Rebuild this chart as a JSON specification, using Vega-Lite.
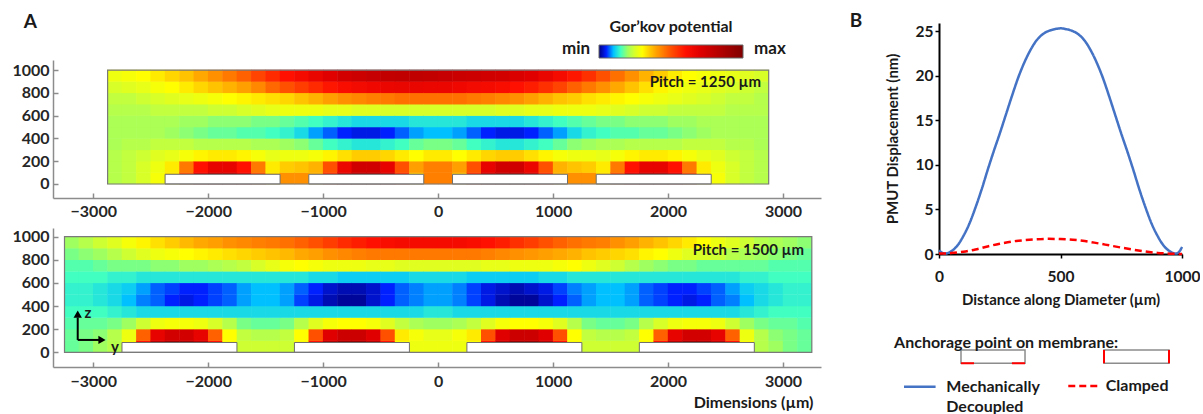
{
"$schema": "https://vega.github.io/schema/vega-lite/v6.json",
"padding": {"left": 11, "top": 12, "right": 0, "bottom": 0},
"background": "white",
"config": {"view": {"stroke": null}, "font": "Lato", "axis": {"labelFont": "Lato", "titleFont": "Lato", "labelFontWeight": "bold", "titleFontWeight": "bold", "grid": false, "labelFlush": false, "labelOverlap": false, "format": "d"}},
"datasets": {
"ta": [
{"y":-2812.5,"z":50,"v":2.2},{"y":-2812.5,"z":150,"v":2.2},{"y":-2812.5,"z":250,"v":2.2},{"y":-2812.5,"z":350,"v":2.1},{"y":-2812.5,"z":450,"v":2.1},{"y":-2812.5,"z":550,"v":2.1},{"y":-2812.5,"z":650,"v":2.2},{"y":-2812.5,"z":750,"v":2.3},{"y":-2812.5,"z":850,"v":2.5},{"y":-2812.5,"z":950,"v":2.8},
{"y":-2687.5,"z":50,"v":2.3},{"y":-2687.5,"z":150,"v":2.3},{"y":-2687.5,"z":250,"v":2.3},{"y":-2687.5,"z":350,"v":2.2},{"y":-2687.5,"z":450,"v":2.1},{"y":-2687.5,"z":550,"v":2.1},{"y":-2687.5,"z":650,"v":2.2},{"y":-2687.5,"z":750,"v":2.3},{"y":-2687.5,"z":850,"v":2.6},{"y":-2687.5,"z":950,"v":2.9},
{"y":-2562.5,"z":50,"v":2.5},{"y":-2562.5,"z":150,"v":2.5},{"y":-2562.5,"z":250,"v":2.4},{"y":-2562.5,"z":350,"v":2.2},{"y":-2562.5,"z":450,"v":2.1},{"y":-2562.5,"z":550,"v":2.1},{"y":-2562.5,"z":650,"v":2.2},{"y":-2562.5,"z":750,"v":2.4},{"y":-2562.5,"z":850,"v":2.7},{"y":-2562.5,"z":950,"v":3.0},
{"y":-2437.5,"z":50,"v":2.9},{"y":-2437.5,"z":150,"v":2.8},{"y":-2437.5,"z":250,"v":2.6},{"y":-2437.5,"z":350,"v":2.3},{"y":-2437.5,"z":450,"v":2.1},{"y":-2437.5,"z":550,"v":2.1},{"y":-2437.5,"z":650,"v":2.3},{"y":-2437.5,"z":750,"v":2.5},{"y":-2437.5,"z":850,"v":2.9},{"y":-2437.5,"z":950,"v":3.2},
{"y":-2312.5,"z":50,"v":3.3},{"y":-2312.5,"z":150,"v":3.2},{"y":-2312.5,"z":250,"v":2.7},{"y":-2312.5,"z":350,"v":2.3},{"y":-2312.5,"z":450,"v":2.0},{"y":-2312.5,"z":550,"v":2.1},{"y":-2312.5,"z":650,"v":2.3},{"y":-2312.5,"z":750,"v":2.6},{"y":-2312.5,"z":850,"v":3.0},{"y":-2312.5,"z":950,"v":3.4},
{"y":-2187.5,"z":50,"v":5.0},{"y":-2187.5,"z":150,"v":4.5},{"y":-2187.5,"z":250,"v":2.9},{"y":-2187.5,"z":350,"v":2.3},{"y":-2187.5,"z":450,"v":1.9},{"y":-2187.5,"z":550,"v":2.0},{"y":-2187.5,"z":650,"v":2.3},{"y":-2187.5,"z":750,"v":2.7},{"y":-2187.5,"z":850,"v":3.2},{"y":-2187.5,"z":950,"v":3.6},
{"y":-2062.5,"z":50,"v":7.3},{"y":-2062.5,"z":150,"v":6.0},{"y":-2062.5,"z":250,"v":3.1},{"y":-2062.5,"z":350,"v":2.2},{"y":-2062.5,"z":450,"v":1.8},{"y":-2062.5,"z":550,"v":2.0},{"y":-2062.5,"z":650,"v":2.3},{"y":-2062.5,"z":750,"v":2.8},{"y":-2062.5,"z":850,"v":3.4},{"y":-2062.5,"z":950,"v":3.9},
{"y":-1937.5,"z":50,"v":8.3},{"y":-1937.5,"z":150,"v":6.8},{"y":-1937.5,"z":250,"v":3.2},{"y":-1937.5,"z":350,"v":2.2},{"y":-1937.5,"z":450,"v":1.7},{"y":-1937.5,"z":550,"v":1.9},{"y":-1937.5,"z":650,"v":2.4},{"y":-1937.5,"z":750,"v":2.9},{"y":-1937.5,"z":850,"v":3.6},{"y":-1937.5,"z":950,"v":4.2},
{"y":-1812.5,"z":50,"v":8.3},{"y":-1812.5,"z":150,"v":6.8},{"y":-1812.5,"z":250,"v":3.2},{"y":-1812.5,"z":350,"v":2.2},{"y":-1812.5,"z":450,"v":1.7},{"y":-1812.5,"z":550,"v":1.9},{"y":-1812.5,"z":650,"v":2.4},{"y":-1812.5,"z":750,"v":3.0},{"y":-1812.5,"z":850,"v":3.8},{"y":-1812.5,"z":950,"v":4.5},
{"y":-1687.5,"z":50,"v":7.3},{"y":-1687.5,"z":150,"v":6.0},{"y":-1687.5,"z":250,"v":3.1},{"y":-1687.5,"z":350,"v":2.2},{"y":-1687.5,"z":450,"v":1.6},{"y":-1687.5,"z":550,"v":1.9},{"y":-1687.5,"z":650,"v":2.5},{"y":-1687.5,"z":750,"v":3.1},{"y":-1687.5,"z":850,"v":4.0},{"y":-1687.5,"z":950,"v":4.8},
{"y":-1562.5,"z":50,"v":5.0},{"y":-1562.5,"z":150,"v":4.5},{"y":-1562.5,"z":250,"v":2.9},{"y":-1562.5,"z":350,"v":2.1},{"y":-1562.5,"z":450,"v":1.6},{"y":-1562.5,"z":550,"v":1.8},{"y":-1562.5,"z":650,"v":2.6},{"y":-1562.5,"z":750,"v":3.2},{"y":-1562.5,"z":850,"v":4.3},{"y":-1562.5,"z":950,"v":5.2},
{"y":-1437.5,"z":50,"v":3.4},{"y":-1437.5,"z":150,"v":3.2},{"y":-1437.5,"z":250,"v":2.7},{"y":-1437.5,"z":350,"v":2.1},{"y":-1437.5,"z":450,"v":1.5},{"y":-1437.5,"z":550,"v":1.8},{"y":-1437.5,"z":650,"v":2.7},{"y":-1437.5,"z":750,"v":3.3},{"y":-1437.5,"z":850,"v":4.7},{"y":-1437.5,"z":950,"v":5.6},
{"y":-1312.5,"z":50,"v":4.2},{"y":-1312.5,"z":150,"v":3.5},{"y":-1312.5,"z":250,"v":2.8},{"y":-1312.5,"z":350,"v":2.0},{"y":-1312.5,"z":450,"v":1.4},{"y":-1312.5,"z":550,"v":1.7},{"y":-1312.5,"z":650,"v":2.8},{"y":-1312.5,"z":750,"v":3.4},{"y":-1312.5,"z":850,"v":5.0},{"y":-1312.5,"z":950,"v":6.0},
{"y":-1187.5,"z":50,"v":4.2},{"y":-1187.5,"z":150,"v":3.6},{"y":-1187.5,"z":250,"v":2.8},{"y":-1187.5,"z":350,"v":1.9},{"y":-1187.5,"z":450,"v":1.2},{"y":-1187.5,"z":550,"v":1.6},{"y":-1187.5,"z":650,"v":2.8},{"y":-1187.5,"z":750,"v":3.6},{"y":-1187.5,"z":850,"v":5.3},{"y":-1187.5,"z":950,"v":6.3},
{"y":-1062.5,"z":50,"v":3.8},{"y":-1062.5,"z":150,"v":3.8},{"y":-1062.5,"z":250,"v":2.9},{"y":-1062.5,"z":350,"v":1.7},{"y":-1062.5,"z":450,"v":0.9},{"y":-1062.5,"z":550,"v":1.5},{"y":-1062.5,"z":650,"v":2.8},{"y":-1062.5,"z":750,"v":3.8},{"y":-1062.5,"z":850,"v":5.6},{"y":-1062.5,"z":950,"v":6.7},
{"y":-937.5,"z":50,"v":5.5},{"y":-937.5,"z":150,"v":5.0},{"y":-937.5,"z":250,"v":3.1},{"y":-937.5,"z":350,"v":1.5},{"y":-937.5,"z":450,"v":0.7},{"y":-937.5,"z":550,"v":1.4},{"y":-937.5,"z":650,"v":2.7},{"y":-937.5,"z":750,"v":4.0},{"y":-937.5,"z":850,"v":5.9},{"y":-937.5,"z":950,"v":7.0},
{"y":-812.5,"z":50,"v":7.8},{"y":-812.5,"z":150,"v":6.6},{"y":-812.5,"z":250,"v":3.3},{"y":-812.5,"z":350,"v":1.4},{"y":-812.5,"z":450,"v":0.5},{"y":-812.5,"z":550,"v":1.3},{"y":-812.5,"z":650,"v":2.7},{"y":-812.5,"z":750,"v":4.2},{"y":-812.5,"z":850,"v":6.2},{"y":-812.5,"z":950,"v":7.4},
{"y":-687.5,"z":50,"v":8.6},{"y":-687.5,"z":150,"v":7.5},{"y":-687.5,"z":250,"v":3.5},{"y":-687.5,"z":350,"v":1.3},{"y":-687.5,"z":450,"v":0.4},{"y":-687.5,"z":550,"v":1.2},{"y":-687.5,"z":650,"v":2.6},{"y":-687.5,"z":750,"v":4.3},{"y":-687.5,"z":850,"v":6.4},{"y":-687.5,"z":950,"v":7.6},
{"y":-562.5,"z":50,"v":8.6},{"y":-562.5,"z":150,"v":7.5},{"y":-562.5,"z":250,"v":3.5},{"y":-562.5,"z":350,"v":1.3},{"y":-562.5,"z":450,"v":0.4},{"y":-562.5,"z":550,"v":1.2},{"y":-562.5,"z":650,"v":2.6},{"y":-562.5,"z":750,"v":4.4},{"y":-562.5,"z":850,"v":6.5},{"y":-562.5,"z":950,"v":7.8},
{"y":-437.5,"z":50,"v":7.8},{"y":-437.5,"z":150,"v":6.8},{"y":-437.5,"z":250,"v":3.4},{"y":-437.5,"z":350,"v":1.4},{"y":-437.5,"z":450,"v":0.5},{"y":-437.5,"z":550,"v":1.2},{"y":-437.5,"z":650,"v":2.5},{"y":-437.5,"z":750,"v":4.5},{"y":-437.5,"z":850,"v":6.6},{"y":-437.5,"z":950,"v":7.9},
{"y":-312.5,"z":50,"v":5.5},{"y":-312.5,"z":150,"v":5.0},{"y":-312.5,"z":250,"v":3.2},{"y":-312.5,"z":350,"v":1.5},{"y":-312.5,"z":450,"v":0.7},{"y":-312.5,"z":550,"v":1.2},{"y":-312.5,"z":650,"v":2.5},{"y":-312.5,"z":750,"v":4.6},{"y":-312.5,"z":850,"v":6.7},{"y":-312.5,"z":950,"v":8.0},
{"y":-187.5,"z":50,"v":3.6},{"y":-187.5,"z":150,"v":4.0},{"y":-187.5,"z":250,"v":3.0},{"y":-187.5,"z":350,"v":1.7},{"y":-187.5,"z":450,"v":0.9},{"y":-187.5,"z":550,"v":1.3},{"y":-187.5,"z":650,"v":2.5},{"y":-187.5,"z":750,"v":4.6},{"y":-187.5,"z":850,"v":6.7},{"y":-187.5,"z":950,"v":8.0},
{"y":-62.5,"z":50,"v":4.4},{"y":-62.5,"z":150,"v":4.4},{"y":-62.5,"z":250,"v":3.2},{"y":-62.5,"z":350,"v":1.8},{"y":-62.5,"z":450,"v":1.0},{"y":-62.5,"z":550,"v":1.3},{"y":-62.5,"z":650,"v":2.5},{"y":-62.5,"z":750,"v":4.6},{"y":-62.5,"z":850,"v":6.6},{"y":-62.5,"z":950,"v":7.9},
{"y":62.5,"z":50,"v":4.4},{"y":62.5,"z":150,"v":4.4},{"y":62.5,"z":250,"v":3.2},{"y":62.5,"z":350,"v":1.8},{"y":62.5,"z":450,"v":1.0},{"y":62.5,"z":550,"v":1.3},{"y":62.5,"z":650,"v":2.5},{"y":62.5,"z":750,"v":4.6},{"y":62.5,"z":850,"v":6.6},{"y":62.5,"z":950,"v":7.8},
{"y":187.5,"z":50,"v":3.6},{"y":187.5,"z":150,"v":4.0},{"y":187.5,"z":250,"v":3.0},{"y":187.5,"z":350,"v":1.7},{"y":187.5,"z":450,"v":0.9},{"y":187.5,"z":550,"v":1.3},{"y":187.5,"z":650,"v":2.5},{"y":187.5,"z":750,"v":4.6},{"y":187.5,"z":850,"v":6.5},{"y":187.5,"z":950,"v":7.7},
{"y":312.5,"z":50,"v":5.5},{"y":312.5,"z":150,"v":5.0},{"y":312.5,"z":250,"v":3.2},{"y":312.5,"z":350,"v":1.5},{"y":312.5,"z":450,"v":0.7},{"y":312.5,"z":550,"v":1.2},{"y":312.5,"z":650,"v":2.5},{"y":312.5,"z":750,"v":4.5},{"y":312.5,"z":850,"v":6.4},{"y":312.5,"z":950,"v":7.6},
{"y":437.5,"z":50,"v":7.8},{"y":437.5,"z":150,"v":6.8},{"y":437.5,"z":250,"v":3.4},{"y":437.5,"z":350,"v":1.4},{"y":437.5,"z":450,"v":0.5},{"y":437.5,"z":550,"v":1.2},{"y":437.5,"z":650,"v":2.5},{"y":437.5,"z":750,"v":4.4},{"y":437.5,"z":850,"v":6.3},{"y":437.5,"z":950,"v":7.5},
{"y":562.5,"z":50,"v":8.6},{"y":562.5,"z":150,"v":7.5},{"y":562.5,"z":250,"v":3.5},{"y":562.5,"z":350,"v":1.3},{"y":562.5,"z":450,"v":0.4},{"y":562.5,"z":550,"v":1.2},{"y":562.5,"z":650,"v":2.6},{"y":562.5,"z":750,"v":4.3},{"y":562.5,"z":850,"v":6.2},{"y":562.5,"z":950,"v":7.4},
{"y":687.5,"z":50,"v":8.6},{"y":687.5,"z":150,"v":7.5},{"y":687.5,"z":250,"v":3.5},{"y":687.5,"z":350,"v":1.3},{"y":687.5,"z":450,"v":0.4},{"y":687.5,"z":550,"v":1.2},{"y":687.5,"z":650,"v":2.6},{"y":687.5,"z":750,"v":4.2},{"y":687.5,"z":850,"v":6.0},{"y":687.5,"z":950,"v":7.2},
{"y":812.5,"z":50,"v":7.8},{"y":812.5,"z":150,"v":6.6},{"y":812.5,"z":250,"v":3.3},{"y":812.5,"z":350,"v":1.4},{"y":812.5,"z":450,"v":0.5},{"y":812.5,"z":550,"v":1.3},{"y":812.5,"z":650,"v":2.7},{"y":812.5,"z":750,"v":4.0},{"y":812.5,"z":850,"v":5.8},{"y":812.5,"z":950,"v":7.0},
{"y":937.5,"z":50,"v":5.5},{"y":937.5,"z":150,"v":5.0},{"y":937.5,"z":250,"v":3.1},{"y":937.5,"z":350,"v":1.5},{"y":937.5,"z":450,"v":0.7},{"y":937.5,"z":550,"v":1.4},{"y":937.5,"z":650,"v":2.7},{"y":937.5,"z":750,"v":3.8},{"y":937.5,"z":850,"v":5.5},{"y":937.5,"z":950,"v":6.7},
{"y":1062.5,"z":50,"v":3.8},{"y":1062.5,"z":150,"v":3.8},{"y":1062.5,"z":250,"v":2.9},{"y":1062.5,"z":350,"v":1.7},{"y":1062.5,"z":450,"v":0.9},{"y":1062.5,"z":550,"v":1.5},{"y":1062.5,"z":650,"v":2.8},{"y":1062.5,"z":750,"v":3.6},{"y":1062.5,"z":850,"v":5.2},{"y":1062.5,"z":950,"v":6.3},
{"y":1187.5,"z":50,"v":4.2},{"y":1187.5,"z":150,"v":3.6},{"y":1187.5,"z":250,"v":2.8},{"y":1187.5,"z":350,"v":1.9},{"y":1187.5,"z":450,"v":1.2},{"y":1187.5,"z":550,"v":1.6},{"y":1187.5,"z":650,"v":2.8},{"y":1187.5,"z":750,"v":3.5},{"y":1187.5,"z":850,"v":4.8},{"y":1187.5,"z":950,"v":5.9},
{"y":1312.5,"z":50,"v":4.2},{"y":1312.5,"z":150,"v":3.5},{"y":1312.5,"z":250,"v":2.8},{"y":1312.5,"z":350,"v":2.0},{"y":1312.5,"z":450,"v":1.4},{"y":1312.5,"z":550,"v":1.7},{"y":1312.5,"z":650,"v":2.8},{"y":1312.5,"z":750,"v":3.3},{"y":1312.5,"z":850,"v":4.5},{"y":1312.5,"z":950,"v":5.5},
{"y":1437.5,"z":50,"v":3.4},{"y":1437.5,"z":150,"v":3.2},{"y":1437.5,"z":250,"v":2.7},{"y":1437.5,"z":350,"v":2.1},{"y":1437.5,"z":450,"v":1.5},{"y":1437.5,"z":550,"v":1.8},{"y":1437.5,"z":650,"v":2.7},{"y":1437.5,"z":750,"v":3.2},{"y":1437.5,"z":850,"v":4.2},{"y":1437.5,"z":950,"v":5.0},
{"y":1562.5,"z":50,"v":5.0},{"y":1562.5,"z":150,"v":4.5},{"y":1562.5,"z":250,"v":2.9},{"y":1562.5,"z":350,"v":2.1},{"y":1562.5,"z":450,"v":1.6},{"y":1562.5,"z":550,"v":1.8},{"y":1562.5,"z":650,"v":2.6},{"y":1562.5,"z":750,"v":3.1},{"y":1562.5,"z":850,"v":3.9},{"y":1562.5,"z":950,"v":4.6},
{"y":1687.5,"z":50,"v":7.3},{"y":1687.5,"z":150,"v":6.0},{"y":1687.5,"z":250,"v":3.1},{"y":1687.5,"z":350,"v":2.2},{"y":1687.5,"z":450,"v":1.6},{"y":1687.5,"z":550,"v":1.9},{"y":1687.5,"z":650,"v":2.5},{"y":1687.5,"z":750,"v":3.0},{"y":1687.5,"z":850,"v":3.6},{"y":1687.5,"z":950,"v":4.2},
{"y":1812.5,"z":50,"v":8.3},{"y":1812.5,"z":150,"v":6.8},{"y":1812.5,"z":250,"v":3.2},{"y":1812.5,"z":350,"v":2.2},{"y":1812.5,"z":450,"v":1.7},{"y":1812.5,"z":550,"v":1.9},{"y":1812.5,"z":650,"v":2.4},{"y":1812.5,"z":750,"v":2.9},{"y":1812.5,"z":850,"v":3.3},{"y":1812.5,"z":950,"v":3.8},
{"y":1937.5,"z":50,"v":8.3},{"y":1937.5,"z":150,"v":6.8},{"y":1937.5,"z":250,"v":3.2},{"y":1937.5,"z":350,"v":2.2},{"y":1937.5,"z":450,"v":1.7},{"y":1937.5,"z":550,"v":1.9},{"y":1937.5,"z":650,"v":2.4},{"y":1937.5,"z":750,"v":2.8},{"y":1937.5,"z":850,"v":3.1},{"y":1937.5,"z":950,"v":3.5},
{"y":2062.5,"z":50,"v":7.3},{"y":2062.5,"z":150,"v":6.0},{"y":2062.5,"z":250,"v":3.1},{"y":2062.5,"z":350,"v":2.2},{"y":2062.5,"z":450,"v":1.8},{"y":2062.5,"z":550,"v":2.0},{"y":2062.5,"z":650,"v":2.3},{"y":2062.5,"z":750,"v":2.7},{"y":2062.5,"z":850,"v":2.9},{"y":2062.5,"z":950,"v":3.2},
{"y":2187.5,"z":50,"v":5.0},{"y":2187.5,"z":150,"v":4.5},{"y":2187.5,"z":250,"v":2.9},{"y":2187.5,"z":350,"v":2.3},{"y":2187.5,"z":450,"v":1.9},{"y":2187.5,"z":550,"v":2.0},{"y":2187.5,"z":650,"v":2.3},{"y":2187.5,"z":750,"v":2.6},{"y":2187.5,"z":850,"v":2.8},{"y":2187.5,"z":950,"v":3.0},
{"y":2312.5,"z":50,"v":3.3},{"y":2312.5,"z":150,"v":3.2},{"y":2312.5,"z":250,"v":2.7},{"y":2312.5,"z":350,"v":2.3},{"y":2312.5,"z":450,"v":2.0},{"y":2312.5,"z":550,"v":2.1},{"y":2312.5,"z":650,"v":2.3},{"y":2312.5,"z":750,"v":2.5},{"y":2312.5,"z":850,"v":2.7},{"y":2312.5,"z":950,"v":2.9},
{"y":2437.5,"z":50,"v":2.9},{"y":2437.5,"z":150,"v":2.8},{"y":2437.5,"z":250,"v":2.6},{"y":2437.5,"z":350,"v":2.3},{"y":2437.5,"z":450,"v":2.1},{"y":2437.5,"z":550,"v":2.1},{"y":2437.5,"z":650,"v":2.3},{"y":2437.5,"z":750,"v":2.4},{"y":2437.5,"z":850,"v":2.6},{"y":2437.5,"z":950,"v":2.8},
{"y":2562.5,"z":50,"v":2.5},{"y":2562.5,"z":150,"v":2.5},{"y":2562.5,"z":250,"v":2.4},{"y":2562.5,"z":350,"v":2.2},{"y":2562.5,"z":450,"v":2.1},{"y":2562.5,"z":550,"v":2.1},{"y":2562.5,"z":650,"v":2.2},{"y":2562.5,"z":750,"v":2.3},{"y":2562.5,"z":850,"v":2.5},{"y":2562.5,"z":950,"v":2.7},
{"y":2687.5,"z":50,"v":2.3},{"y":2687.5,"z":150,"v":2.3},{"y":2687.5,"z":250,"v":2.3},{"y":2687.5,"z":350,"v":2.2},{"y":2687.5,"z":450,"v":2.1},{"y":2687.5,"z":550,"v":2.1},{"y":2687.5,"z":650,"v":2.2},{"y":2687.5,"z":750,"v":2.3},{"y":2687.5,"z":850,"v":2.4},{"y":2687.5,"z":950,"v":2.6},
{"y":2812.5,"z":50,"v":2.2},{"y":2812.5,"z":150,"v":2.2},{"y":2812.5,"z":250,"v":2.2},{"y":2812.5,"z":350,"v":2.1},{"y":2812.5,"z":450,"v":2.1},{"y":2812.5,"z":550,"v":2.1},{"y":2812.5,"z":650,"v":2.2},{"y":2812.5,"z":750,"v":2.2},{"y":2812.5,"z":850,"v":2.3},{"y":2812.5,"z":950,"v":2.5}
],
"tb": [
{"y":-3187.5,"z":50,"v":1.7},{"y":-3187.5,"z":150,"v":1.7},{"y":-3187.5,"z":250,"v":1.6},{"y":-3187.5,"z":350,"v":1.5},{"y":-3187.5,"z":450,"v":1.4},{"y":-3187.5,"z":550,"v":1.4},{"y":-3187.5,"z":650,"v":1.5},{"y":-3187.5,"z":750,"v":1.6},{"y":-3187.5,"z":850,"v":1.8},{"y":-3187.5,"z":950,"v":2.0},
{"y":-3062.5,"z":50,"v":1.8},{"y":-3062.5,"z":150,"v":1.8},{"y":-3062.5,"z":250,"v":1.7},{"y":-3062.5,"z":350,"v":1.5},{"y":-3062.5,"z":450,"v":1.4},{"y":-3062.5,"z":550,"v":1.4},{"y":-3062.5,"z":650,"v":1.5},{"y":-3062.5,"z":750,"v":1.6},{"y":-3062.5,"z":850,"v":1.9},{"y":-3062.5,"z":950,"v":2.2},
{"y":-2937.5,"z":50,"v":2.0},{"y":-2937.5,"z":150,"v":1.9},{"y":-2937.5,"z":250,"v":1.7},{"y":-2937.5,"z":350,"v":1.5},{"y":-2937.5,"z":450,"v":1.3},{"y":-2937.5,"z":550,"v":1.3},{"y":-2937.5,"z":650,"v":1.5},{"y":-2937.5,"z":750,"v":1.7},{"y":-2937.5,"z":850,"v":2.0},{"y":-2937.5,"z":950,"v":2.4},
{"y":-2812.5,"z":50,"v":2.2},{"y":-2812.5,"z":150,"v":2.2},{"y":-2812.5,"z":250,"v":1.8},{"y":-2812.5,"z":350,"v":1.4},{"y":-2812.5,"z":450,"v":1.2},{"y":-2812.5,"z":550,"v":1.2},{"y":-2812.5,"z":650,"v":1.4},{"y":-2812.5,"z":750,"v":1.8},{"y":-2812.5,"z":850,"v":2.2},{"y":-2812.5,"z":950,"v":2.6},
{"y":-2687.5,"z":50,"v":3.0},{"y":-2687.5,"z":150,"v":2.8},{"y":-2687.5,"z":250,"v":2.0},{"y":-2687.5,"z":350,"v":1.3},{"y":-2687.5,"z":450,"v":1.0},{"y":-2687.5,"z":550,"v":1.1},{"y":-2687.5,"z":650,"v":1.4},{"y":-2687.5,"z":750,"v":1.8},{"y":-2687.5,"z":850,"v":2.4},{"y":-2687.5,"z":950,"v":2.9},
{"y":-2562.5,"z":50,"v":6.0},{"y":-2562.5,"z":150,"v":4.8},{"y":-2562.5,"z":250,"v":2.4},{"y":-2562.5,"z":350,"v":1.2},{"y":-2562.5,"z":450,"v":0.8},{"y":-2562.5,"z":550,"v":0.9},{"y":-2562.5,"z":650,"v":1.3},{"y":-2562.5,"z":750,"v":1.8},{"y":-2562.5,"z":850,"v":2.6},{"y":-2562.5,"z":950,"v":3.1},
{"y":-2437.5,"z":50,"v":8.3},{"y":-2437.5,"z":150,"v":6.8},{"y":-2437.5,"z":250,"v":2.8},{"y":-2437.5,"z":350,"v":1.2},{"y":-2437.5,"z":450,"v":0.7},{"y":-2437.5,"z":550,"v":0.7},{"y":-2437.5,"z":650,"v":1.3},{"y":-2437.5,"z":750,"v":1.9},{"y":-2437.5,"z":850,"v":2.8},{"y":-2437.5,"z":950,"v":3.3},
{"y":-2312.5,"z":50,"v":9.2},{"y":-2312.5,"z":150,"v":7.4},{"y":-2312.5,"z":250,"v":2.9},{"y":-2312.5,"z":350,"v":1.2},{"y":-2312.5,"z":450,"v":0.5},{"y":-2312.5,"z":550,"v":0.6},{"y":-2312.5,"z":650,"v":1.3},{"y":-2312.5,"z":750,"v":1.9},{"y":-2312.5,"z":850,"v":2.9},{"y":-2312.5,"z":950,"v":3.5},
{"y":-2187.5,"z":50,"v":9.2},{"y":-2187.5,"z":150,"v":7.4},{"y":-2187.5,"z":250,"v":2.9},{"y":-2187.5,"z":350,"v":1.2},{"y":-2187.5,"z":450,"v":0.4},{"y":-2187.5,"z":550,"v":0.5},{"y":-2187.5,"z":650,"v":1.3},{"y":-2187.5,"z":750,"v":2.0},{"y":-2187.5,"z":850,"v":3.0},{"y":-2187.5,"z":950,"v":3.7},
{"y":-2062.5,"z":50,"v":8.3},{"y":-2062.5,"z":150,"v":6.8},{"y":-2062.5,"z":250,"v":2.8},{"y":-2062.5,"z":350,"v":1.2},{"y":-2062.5,"z":450,"v":0.5},{"y":-2062.5,"z":550,"v":0.5},{"y":-2062.5,"z":650,"v":1.3},{"y":-2062.5,"z":750,"v":2.0},{"y":-2062.5,"z":850,"v":3.1},{"y":-2062.5,"z":950,"v":3.9},
{"y":-1937.5,"z":50,"v":6.0},{"y":-1937.5,"z":150,"v":4.8},{"y":-1937.5,"z":250,"v":2.5},{"y":-1937.5,"z":350,"v":1.2},{"y":-1937.5,"z":450,"v":0.6},{"y":-1937.5,"z":550,"v":0.6},{"y":-1937.5,"z":650,"v":1.3},{"y":-1937.5,"z":750,"v":2.1},{"y":-1937.5,"z":850,"v":3.2},{"y":-1937.5,"z":950,"v":4.0},
{"y":-1812.5,"z":50,"v":3.0},{"y":-1812.5,"z":150,"v":3.0},{"y":-1812.5,"z":250,"v":2.2},{"y":-1812.5,"z":350,"v":1.2},{"y":-1812.5,"z":450,"v":0.7},{"y":-1812.5,"z":550,"v":0.7},{"y":-1812.5,"z":650,"v":1.3},{"y":-1812.5,"z":750,"v":2.2},{"y":-1812.5,"z":850,"v":3.3},{"y":-1812.5,"z":950,"v":4.2},
{"y":-1687.5,"z":50,"v":2.4},{"y":-1687.5,"z":150,"v":2.3},{"y":-1687.5,"z":250,"v":1.8},{"y":-1687.5,"z":350,"v":1.2},{"y":-1687.5,"z":450,"v":0.9},{"y":-1687.5,"z":550,"v":0.9},{"y":-1687.5,"z":650,"v":1.3},{"y":-1687.5,"z":750,"v":2.3},{"y":-1687.5,"z":850,"v":3.4},{"y":-1687.5,"z":950,"v":4.3},
{"y":-1562.5,"z":50,"v":2.4},{"y":-1562.5,"z":150,"v":2.2},{"y":-1562.5,"z":250,"v":1.7},{"y":-1562.5,"z":350,"v":1.2},{"y":-1562.5,"z":450,"v":1.0},{"y":-1562.5,"z":550,"v":1.0},{"y":-1562.5,"z":650,"v":1.3},{"y":-1562.5,"z":750,"v":2.5},{"y":-1562.5,"z":850,"v":3.5},{"y":-1562.5,"z":950,"v":4.4},
{"y":-1437.5,"z":50,"v":2.4},{"y":-1437.5,"z":150,"v":2.2},{"y":-1437.5,"z":250,"v":1.7},{"y":-1437.5,"z":350,"v":1.2},{"y":-1437.5,"z":450,"v":1.0},{"y":-1437.5,"z":550,"v":1.0},{"y":-1437.5,"z":650,"v":1.3},{"y":-1437.5,"z":750,"v":2.7},{"y":-1437.5,"z":850,"v":3.6},{"y":-1437.5,"z":950,"v":4.5},
{"y":-1312.5,"z":50,"v":2.4},{"y":-1312.5,"z":150,"v":2.3},{"y":-1312.5,"z":250,"v":1.8},{"y":-1312.5,"z":350,"v":1.2},{"y":-1312.5,"z":450,"v":0.9},{"y":-1312.5,"z":550,"v":0.9},{"y":-1312.5,"z":650,"v":1.3},{"y":-1312.5,"z":750,"v":2.9},{"y":-1312.5,"z":850,"v":3.7},{"y":-1312.5,"z":950,"v":4.6},
{"y":-1187.5,"z":50,"v":3.0},{"y":-1187.5,"z":150,"v":3.0},{"y":-1187.5,"z":250,"v":2.2},{"y":-1187.5,"z":350,"v":1.2},{"y":-1187.5,"z":450,"v":0.6},{"y":-1187.5,"z":550,"v":0.7},{"y":-1187.5,"z":650,"v":1.3},{"y":-1187.5,"z":750,"v":3.0},{"y":-1187.5,"z":850,"v":3.9},{"y":-1187.5,"z":950,"v":4.8},
{"y":-1062.5,"z":50,"v":6.0},{"y":-1062.5,"z":150,"v":5.0},{"y":-1062.5,"z":250,"v":2.6},{"y":-1062.5,"z":350,"v":1.2},{"y":-1062.5,"z":450,"v":0.4},{"y":-1062.5,"z":550,"v":0.5},{"y":-1062.5,"z":650,"v":1.2},{"y":-1062.5,"z":750,"v":2.9},{"y":-1062.5,"z":850,"v":4.0},{"y":-1062.5,"z":950,"v":5.0},
{"y":-937.5,"z":50,"v":8.5},{"y":-937.5,"z":150,"v":7.0},{"y":-937.5,"z":250,"v":2.9},{"y":-937.5,"z":350,"v":1.2},{"y":-937.5,"z":450,"v":0.2},{"y":-937.5,"z":550,"v":0.3},{"y":-937.5,"z":650,"v":1.2},{"y":-937.5,"z":750,"v":2.8},{"y":-937.5,"z":850,"v":4.2},{"y":-937.5,"z":950,"v":5.3},
{"y":-812.5,"z":50,"v":9.3},{"y":-812.5,"z":150,"v":7.6},{"y":-812.5,"z":250,"v":3.0},{"y":-812.5,"z":350,"v":1.2},{"y":-812.5,"z":450,"v":0.1},{"y":-812.5,"z":550,"v":0.2},{"y":-812.5,"z":650,"v":1.1},{"y":-812.5,"z":750,"v":2.8},{"y":-812.5,"z":850,"v":4.3},{"y":-812.5,"z":950,"v":5.6},
{"y":-687.5,"z":50,"v":9.3},{"y":-687.5,"z":150,"v":7.6},{"y":-687.5,"z":250,"v":3.0},{"y":-687.5,"z":350,"v":1.2},{"y":-687.5,"z":450,"v":0.1},{"y":-687.5,"z":550,"v":0.2},{"y":-687.5,"z":650,"v":1.1},{"y":-687.5,"z":750,"v":2.8},{"y":-687.5,"z":850,"v":4.4},{"y":-687.5,"z":950,"v":5.8},
{"y":-562.5,"z":50,"v":8.5},{"y":-562.5,"z":150,"v":7.0},{"y":-562.5,"z":250,"v":2.9},{"y":-562.5,"z":350,"v":1.2},{"y":-562.5,"z":450,"v":0.3},{"y":-562.5,"z":550,"v":0.3},{"y":-562.5,"z":650,"v":1.1},{"y":-562.5,"z":750,"v":2.7},{"y":-562.5,"z":850,"v":4.5},{"y":-562.5,"z":950,"v":6.0},
{"y":-437.5,"z":50,"v":6.0},{"y":-437.5,"z":150,"v":5.0},{"y":-437.5,"z":250,"v":2.6},{"y":-437.5,"z":350,"v":1.2},{"y":-437.5,"z":450,"v":0.5},{"y":-437.5,"z":550,"v":0.5},{"y":-437.5,"z":650,"v":1.1},{"y":-437.5,"z":750,"v":2.7},{"y":-437.5,"z":850,"v":4.5},{"y":-437.5,"z":950,"v":6.2},
{"y":-312.5,"z":50,"v":3.0},{"y":-312.5,"z":150,"v":3.2},{"y":-312.5,"z":250,"v":2.3},{"y":-312.5,"z":350,"v":1.2},{"y":-312.5,"z":450,"v":0.7},{"y":-312.5,"z":550,"v":0.7},{"y":-312.5,"z":650,"v":1.1},{"y":-312.5,"z":750,"v":2.6},{"y":-312.5,"z":850,"v":4.5},{"y":-312.5,"z":950,"v":6.3},
{"y":-187.5,"z":50,"v":2.8},{"y":-187.5,"z":150,"v":2.9},{"y":-187.5,"z":250,"v":2.1},{"y":-187.5,"z":350,"v":1.2},{"y":-187.5,"z":450,"v":0.8},{"y":-187.5,"z":550,"v":0.8},{"y":-187.5,"z":650,"v":1.2},{"y":-187.5,"z":750,"v":2.6},{"y":-187.5,"z":850,"v":4.5},{"y":-187.5,"z":950,"v":6.3},
{"y":-62.5,"z":50,"v":2.8},{"y":-62.5,"z":150,"v":2.7},{"y":-62.5,"z":250,"v":2.0},{"y":-62.5,"z":350,"v":1.3},{"y":-62.5,"z":450,"v":0.9},{"y":-62.5,"z":550,"v":0.9},{"y":-62.5,"z":650,"v":1.2},{"y":-62.5,"z":750,"v":2.6},{"y":-62.5,"z":850,"v":4.5},{"y":-62.5,"z":950,"v":6.3},
{"y":62.5,"z":50,"v":2.8},{"y":62.5,"z":150,"v":2.7},{"y":62.5,"z":250,"v":2.0},{"y":62.5,"z":350,"v":1.3},{"y":62.5,"z":450,"v":0.9},{"y":62.5,"z":550,"v":0.9},{"y":62.5,"z":650,"v":1.2},{"y":62.5,"z":750,"v":2.6},{"y":62.5,"z":850,"v":4.5},{"y":62.5,"z":950,"v":6.3},
{"y":187.5,"z":50,"v":2.8},{"y":187.5,"z":150,"v":2.9},{"y":187.5,"z":250,"v":2.1},{"y":187.5,"z":350,"v":1.2},{"y":187.5,"z":450,"v":0.8},{"y":187.5,"z":550,"v":0.8},{"y":187.5,"z":650,"v":1.2},{"y":187.5,"z":750,"v":2.6},{"y":187.5,"z":850,"v":4.5},{"y":187.5,"z":950,"v":6.3},
{"y":312.5,"z":50,"v":3.0},{"y":312.5,"z":150,"v":3.2},{"y":312.5,"z":250,"v":2.3},{"y":312.5,"z":350,"v":1.2},{"y":312.5,"z":450,"v":0.6},{"y":312.5,"z":550,"v":0.6},{"y":312.5,"z":650,"v":1.1},{"y":312.5,"z":750,"v":2.6},{"y":312.5,"z":850,"v":4.5},{"y":312.5,"z":950,"v":6.2},
{"y":437.5,"z":50,"v":6.0},{"y":437.5,"z":150,"v":5.0},{"y":437.5,"z":250,"v":2.6},{"y":437.5,"z":350,"v":1.2},{"y":437.5,"z":450,"v":0.4},{"y":437.5,"z":550,"v":0.4},{"y":437.5,"z":650,"v":1.1},{"y":437.5,"z":750,"v":2.7},{"y":437.5,"z":850,"v":4.4},{"y":437.5,"z":950,"v":6.0},
{"y":562.5,"z":50,"v":8.5},{"y":562.5,"z":150,"v":7.0},{"y":562.5,"z":250,"v":2.9},{"y":562.5,"z":350,"v":1.2},{"y":562.5,"z":450,"v":0.2},{"y":562.5,"z":550,"v":0.3},{"y":562.5,"z":650,"v":1.1},{"y":562.5,"z":750,"v":2.7},{"y":562.5,"z":850,"v":4.3},{"y":562.5,"z":950,"v":5.8},
{"y":687.5,"z":50,"v":9.3},{"y":687.5,"z":150,"v":7.6},{"y":687.5,"z":250,"v":3.0},{"y":687.5,"z":350,"v":1.2},{"y":687.5,"z":450,"v":0.1},{"y":687.5,"z":550,"v":0.2},{"y":687.5,"z":650,"v":1.1},{"y":687.5,"z":750,"v":2.8},{"y":687.5,"z":850,"v":4.2},{"y":687.5,"z":950,"v":5.5},
{"y":812.5,"z":50,"v":9.3},{"y":812.5,"z":150,"v":7.6},{"y":812.5,"z":250,"v":3.0},{"y":812.5,"z":350,"v":1.2},{"y":812.5,"z":450,"v":0.1},{"y":812.5,"z":550,"v":0.3},{"y":812.5,"z":650,"v":1.1},{"y":812.5,"z":750,"v":2.8},{"y":812.5,"z":850,"v":4.1},{"y":812.5,"z":950,"v":5.3},
{"y":937.5,"z":50,"v":8.5},{"y":937.5,"z":150,"v":7.0},{"y":937.5,"z":250,"v":2.9},{"y":937.5,"z":350,"v":1.2},{"y":937.5,"z":450,"v":0.3},{"y":937.5,"z":550,"v":0.4},{"y":937.5,"z":650,"v":1.2},{"y":937.5,"z":750,"v":2.8},{"y":937.5,"z":850,"v":4.0},{"y":937.5,"z":950,"v":5.0},
{"y":1062.5,"z":50,"v":6.0},{"y":1062.5,"z":150,"v":5.0},{"y":1062.5,"z":250,"v":2.6},{"y":1062.5,"z":350,"v":1.2},{"y":1062.5,"z":450,"v":0.5},{"y":1062.5,"z":550,"v":0.6},{"y":1062.5,"z":650,"v":1.2},{"y":1062.5,"z":750,"v":2.9},{"y":1062.5,"z":850,"v":3.9},{"y":1062.5,"z":950,"v":4.8},
{"y":1187.5,"z":50,"v":3.0},{"y":1187.5,"z":150,"v":3.0},{"y":1187.5,"z":250,"v":2.2},{"y":1187.5,"z":350,"v":1.2},{"y":1187.5,"z":450,"v":0.7},{"y":1187.5,"z":550,"v":0.8},{"y":1187.5,"z":650,"v":1.3},{"y":1187.5,"z":750,"v":3.0},{"y":1187.5,"z":850,"v":3.8},{"y":1187.5,"z":950,"v":4.6},
{"y":1312.5,"z":50,"v":2.4},{"y":1312.5,"z":150,"v":2.3},{"y":1312.5,"z":250,"v":1.8},{"y":1312.5,"z":350,"v":1.2},{"y":1312.5,"z":450,"v":0.9},{"y":1312.5,"z":550,"v":0.9},{"y":1312.5,"z":650,"v":1.3},{"y":1312.5,"z":750,"v":2.8},{"y":1312.5,"z":850,"v":3.6},{"y":1312.5,"z":950,"v":4.5},
{"y":1437.5,"z":50,"v":2.4},{"y":1437.5,"z":150,"v":2.2},{"y":1437.5,"z":250,"v":1.7},{"y":1437.5,"z":350,"v":1.2},{"y":1437.5,"z":450,"v":1.0},{"y":1437.5,"z":550,"v":1.0},{"y":1437.5,"z":650,"v":1.3},{"y":1437.5,"z":750,"v":2.6},{"y":1437.5,"z":850,"v":3.5},{"y":1437.5,"z":950,"v":4.4},
{"y":1562.5,"z":50,"v":2.4},{"y":1562.5,"z":150,"v":2.2},{"y":1562.5,"z":250,"v":1.7},{"y":1562.5,"z":350,"v":1.2},{"y":1562.5,"z":450,"v":1.0},{"y":1562.5,"z":550,"v":1.0},{"y":1562.5,"z":650,"v":1.3},{"y":1562.5,"z":750,"v":2.4},{"y":1562.5,"z":850,"v":3.4},{"y":1562.5,"z":950,"v":4.2},
{"y":1687.5,"z":50,"v":2.4},{"y":1687.5,"z":150,"v":2.3},{"y":1687.5,"z":250,"v":1.8},{"y":1687.5,"z":350,"v":1.2},{"y":1687.5,"z":450,"v":0.9},{"y":1687.5,"z":550,"v":0.9},{"y":1687.5,"z":650,"v":1.3},{"y":1687.5,"z":750,"v":2.2},{"y":1687.5,"z":850,"v":3.3},{"y":1687.5,"z":950,"v":4.0},
{"y":1812.5,"z":50,"v":3.0},{"y":1812.5,"z":150,"v":3.0},{"y":1812.5,"z":250,"v":2.2},{"y":1812.5,"z":350,"v":1.2},{"y":1812.5,"z":450,"v":0.7},{"y":1812.5,"z":550,"v":0.7},{"y":1812.5,"z":650,"v":1.3},{"y":1812.5,"z":750,"v":2.0},{"y":1812.5,"z":850,"v":3.1},{"y":1812.5,"z":950,"v":3.8},
{"y":1937.5,"z":50,"v":6.0},{"y":1937.5,"z":150,"v":4.8},{"y":1937.5,"z":250,"v":2.5},{"y":1937.5,"z":350,"v":1.2},{"y":1937.5,"z":450,"v":0.6},{"y":1937.5,"z":550,"v":0.6},{"y":1937.5,"z":650,"v":1.3},{"y":1937.5,"z":750,"v":1.9},{"y":1937.5,"z":850,"v":3.0},{"y":1937.5,"z":950,"v":3.6},
{"y":2062.5,"z":50,"v":8.3},{"y":2062.5,"z":150,"v":6.8},{"y":2062.5,"z":250,"v":2.8},{"y":2062.5,"z":350,"v":1.2},{"y":2062.5,"z":450,"v":0.5},{"y":2062.5,"z":550,"v":0.5},{"y":2062.5,"z":650,"v":1.3},{"y":2062.5,"z":750,"v":1.8},{"y":2062.5,"z":850,"v":2.8},{"y":2062.5,"z":950,"v":3.4},
{"y":2187.5,"z":50,"v":9.2},{"y":2187.5,"z":150,"v":7.4},{"y":2187.5,"z":250,"v":2.9},{"y":2187.5,"z":350,"v":1.2},{"y":2187.5,"z":450,"v":0.4},{"y":2187.5,"z":550,"v":0.5},{"y":2187.5,"z":650,"v":1.3},{"y":2187.5,"z":750,"v":1.8},{"y":2187.5,"z":850,"v":2.6},{"y":2187.5,"z":950,"v":3.2},
{"y":2312.5,"z":50,"v":9.2},{"y":2312.5,"z":150,"v":7.4},{"y":2312.5,"z":250,"v":2.9},{"y":2312.5,"z":350,"v":1.2},{"y":2312.5,"z":450,"v":0.5},{"y":2312.5,"z":550,"v":0.6},{"y":2312.5,"z":650,"v":1.3},{"y":2312.5,"z":750,"v":1.7},{"y":2312.5,"z":850,"v":2.5},{"y":2312.5,"z":950,"v":3.0},
{"y":2437.5,"z":50,"v":8.3},{"y":2437.5,"z":150,"v":6.8},{"y":2437.5,"z":250,"v":2.8},{"y":2437.5,"z":350,"v":1.2},{"y":2437.5,"z":450,"v":0.7},{"y":2437.5,"z":550,"v":0.7},{"y":2437.5,"z":650,"v":1.3},{"y":2437.5,"z":750,"v":1.7},{"y":2437.5,"z":850,"v":2.4},{"y":2437.5,"z":950,"v":2.8},
{"y":2562.5,"z":50,"v":6.0},{"y":2562.5,"z":150,"v":4.8},{"y":2562.5,"z":250,"v":2.4},{"y":2562.5,"z":350,"v":1.2},{"y":2562.5,"z":450,"v":0.8},{"y":2562.5,"z":550,"v":0.9},{"y":2562.5,"z":650,"v":1.3},{"y":2562.5,"z":750,"v":1.7},{"y":2562.5,"z":850,"v":2.2},{"y":2562.5,"z":950,"v":2.6},
{"y":2687.5,"z":50,"v":3.0},{"y":2687.5,"z":150,"v":2.8},{"y":2687.5,"z":250,"v":2.0},{"y":2687.5,"z":350,"v":1.3},{"y":2687.5,"z":450,"v":1.0},{"y":2687.5,"z":550,"v":1.1},{"y":2687.5,"z":650,"v":1.4},{"y":2687.5,"z":750,"v":1.7},{"y":2687.5,"z":850,"v":2.1},{"y":2687.5,"z":950,"v":2.4},
{"y":2812.5,"z":50,"v":2.2},{"y":2812.5,"z":150,"v":2.2},{"y":2812.5,"z":250,"v":1.8},{"y":2812.5,"z":350,"v":1.4},{"y":2812.5,"z":450,"v":1.2},{"y":2812.5,"z":550,"v":1.2},{"y":2812.5,"z":650,"v":1.4},{"y":2812.5,"z":750,"v":1.7},{"y":2812.5,"z":850,"v":2.0},{"y":2812.5,"z":950,"v":2.2},
{"y":2937.5,"z":50,"v":2.0},{"y":2937.5,"z":150,"v":1.9},{"y":2937.5,"z":250,"v":1.7},{"y":2937.5,"z":350,"v":1.5},{"y":2937.5,"z":450,"v":1.3},{"y":2937.5,"z":550,"v":1.3},{"y":2937.5,"z":650,"v":1.5},{"y":2937.5,"z":750,"v":1.6},{"y":2937.5,"z":850,"v":1.9},{"y":2937.5,"z":950,"v":2.1},
{"y":3062.5,"z":50,"v":1.8},{"y":3062.5,"z":150,"v":1.8},{"y":3062.5,"z":250,"v":1.7},{"y":3062.5,"z":350,"v":1.5},{"y":3062.5,"z":450,"v":1.4},{"y":3062.5,"z":550,"v":1.4},{"y":3062.5,"z":650,"v":1.5},{"y":3062.5,"z":750,"v":1.6},{"y":3062.5,"z":850,"v":1.8},{"y":3062.5,"z":950,"v":2.0},
{"y":3187.5,"z":50,"v":1.7},{"y":3187.5,"z":150,"v":1.7},{"y":3187.5,"z":250,"v":1.6},{"y":3187.5,"z":350,"v":1.5},{"y":3187.5,"z":450,"v":1.4},{"y":3187.5,"z":550,"v":1.4},{"y":3187.5,"z":650,"v":1.5},{"y":3187.5,"z":750,"v":1.6},{"y":3187.5,"z":850,"v":1.7},{"y":3187.5,"z":950,"v":1.9}
],
"lines": [
{"x":0,"d":0.4,"s":"Mechanically Decoupled"},{"x":10,"d":0.2,"s":"Mechanically Decoupled"},{"x":25,"d":0.05,"s":"Mechanically Decoupled"},{"x":40,"d":0.15,"s":"Mechanically Decoupled"},{"x":60,"d":0.5,"s":"Mechanically Decoupled"},{"x":80,"d":1.1,"s":"Mechanically Decoupled"},{"x":100,"d":2.0,"s":"Mechanically Decoupled"},{"x":125,"d":3.4,"s":"Mechanically Decoupled"},{"x":150,"d":5.2,"s":"Mechanically Decoupled"},{"x":175,"d":7.2,"s":"Mechanically Decoupled"},{"x":200,"d":9.4,"s":"Mechanically Decoupled"},{"x":225,"d":11.5,"s":"Mechanically Decoupled"},{"x":250,"d":13.5,"s":"Mechanically Decoupled"},{"x":275,"d":15.6,"s":"Mechanically Decoupled"},{"x":300,"d":17.7,"s":"Mechanically Decoupled"},{"x":325,"d":19.7,"s":"Mechanically Decoupled"},{"x":350,"d":21.4,"s":"Mechanically Decoupled"},{"x":375,"d":22.8,"s":"Mechanically Decoupled"},{"x":400,"d":23.9,"s":"Mechanically Decoupled"},{"x":425,"d":24.6,"s":"Mechanically Decoupled"},{"x":450,"d":25.0,"s":"Mechanically Decoupled"},{"x":475,"d":25.2,"s":"Mechanically Decoupled"},{"x":500,"d":25.3,"s":"Mechanically Decoupled"},{"x":525,"d":25.2,"s":"Mechanically Decoupled"},{"x":550,"d":25.0,"s":"Mechanically Decoupled"},{"x":575,"d":24.6,"s":"Mechanically Decoupled"},{"x":600,"d":23.9,"s":"Mechanically Decoupled"},{"x":625,"d":22.8,"s":"Mechanically Decoupled"},{"x":650,"d":21.4,"s":"Mechanically Decoupled"},{"x":675,"d":19.7,"s":"Mechanically Decoupled"},{"x":700,"d":17.7,"s":"Mechanically Decoupled"},{"x":725,"d":15.6,"s":"Mechanically Decoupled"},{"x":750,"d":13.5,"s":"Mechanically Decoupled"},{"x":775,"d":11.5,"s":"Mechanically Decoupled"},{"x":800,"d":9.4,"s":"Mechanically Decoupled"},{"x":825,"d":7.2,"s":"Mechanically Decoupled"},{"x":850,"d":5.2,"s":"Mechanically Decoupled"},{"x":875,"d":3.4,"s":"Mechanically Decoupled"},{"x":900,"d":2.0,"s":"Mechanically Decoupled"},{"x":920,"d":1.1,"s":"Mechanically Decoupled"},{"x":940,"d":0.5,"s":"Mechanically Decoupled"},{"x":960,"d":0.15,"s":"Mechanically Decoupled"},{"x":975,"d":0.05,"s":"Mechanically Decoupled"},{"x":990,"d":0.3,"s":"Mechanically Decoupled"},{"x":1000,"d":0.8,"s":"Mechanically Decoupled"},
{"x":0,"d":0.05,"s":"Clamped"},{"x":50,"d":0.1,"s":"Clamped"},{"x":100,"d":0.25,"s":"Clamped"},{"x":150,"d":0.5,"s":"Clamped"},{"x":200,"d":0.85,"s":"Clamped"},{"x":250,"d":1.15,"s":"Clamped"},{"x":300,"d":1.4,"s":"Clamped"},{"x":350,"d":1.55,"s":"Clamped"},{"x":400,"d":1.65,"s":"Clamped"},{"x":450,"d":1.7,"s":"Clamped"},{"x":500,"d":1.68,"s":"Clamped"},{"x":550,"d":1.6,"s":"Clamped"},{"x":600,"d":1.45,"s":"Clamped"},{"x":650,"d":1.22,"s":"Clamped"},{"x":700,"d":0.97,"s":"Clamped"},{"x":750,"d":0.72,"s":"Clamped"},{"x":800,"d":0.48,"s":"Clamped"},{"x":850,"d":0.27,"s":"Clamped"},{"x":900,"d":0.12,"s":"Clamped"},{"x":950,"d":0.04,"s":"Clamped"},{"x":1000,"d":0.0,"s":"Clamped"}
]
},
"spacing": 28,
"hconcat": [
{
"vconcat": [
{
"width": 768, "height": 7,
"data": {"values": [{"x":-3546,"y":1.214,"t":"A"}]},
"mark": {"type": "text", "align": "center", "baseline": "middle", "font": "Lato", "fontSize": 19, "fontWeight": "bold", "color": "#1a1a1a"},
"encoding": {"x": {"field": "x", "type": "quantitative", "scale": {"domain": [-3350, 3330], "nice": false, "zero": false}, "axis": null},
 "y": {"field": "y", "type": "quantitative", "scale": {"domain": [0, 1], "nice": false, "zero": false}, "axis": null},
 "text": {"field": "t"}}
},
{
"width": 768, "height": 138,
"layer": [
{"data": {"name": "ta"},
 "mark": {"type": "point", "shape": "M-1,-0.8H1V0.8H-1Z", "filled": true, "size": 222, "opacity": 1, "strokeWidth": 0},
 "encoding": {
  "x": {"field": "y", "type": "quantitative", "scale": {"domain": [-3350, 3330], "nice": false, "zero": false},
        "axis": {"values": [-3000,-2000,-1000,0,1000,2000,3000], "tickCount": 7, "format": "d", "labelOverlap": false, "title": null, "tickSize": -5, "labelPadding": 10, "labelFontSize": 16, "labelColor": "#262626", "domainColor": "#8c8c8c", "domainWidth": 1.5, "tickColor": "#8c8c8c", "tickWidth": 1.5}},
  "y": {"field": "z", "type": "quantitative", "scale": {"domain": [-123, 1088], "nice": false, "zero": false},
        "axis": {"values": [0,200,400,600,800,1000], "tickCount": 6, "format": "d", "labelOverlap": false, "title": null, "tickSize": -5, "labelPadding": 9, "labelFontSize": 16, "labelColor": "#262626", "domainColor": "#8c8c8c", "domainWidth": 1.5, "tickColor": "#8c8c8c", "tickWidth": 1.5}},
  "color": {"field": "v", "type": "quantitative",
   "scale": {"domain": [0,0.5,1,1.5,2,2.5,3,3.5,4,4.5,5,5.5,6,7,8,9,10], "range": ["#00007f","#0020ff","#00c0ff","#40ffc0","#a0ff60","#d8ff28","#ffff00","#ffcc00","#ffa000","#ff7800","#ff5000","#ff3000","#ff1000","#e00000","#c00000","#a00000","#800000"], "interpolate": "rgb", "clamp": true},
   "legend": {"orient": "none", "legendX": 546, "legendY": -41, "direction": "horizontal", "gradientLength": 144, "gradientThickness": 13, "labelExpr": "''", "labelFontSize": 1, "title": "Gor’kov potential", "titleOrient": "top", "titleAnchor": "middle", "titleFont": "Lato", "titleFontSize": 16, "titleFontWeight": "bold", "titleColor": "#1a1a1a", "titlePadding": 10, "gradientStrokeColor": "#666666", "gradientStrokeWidth": 1}}
 }},
{"data": {"values": [{"y":-2375,"y2":-1375,"z":0,"z2":85},{"y":-1125,"y2":-125,"z":0,"z2":85},{"y":125,"y2":1125,"z":0,"z2":85},{"y":1375,"y2":2375,"z":0,"z2":85}]},
 "mark": {"type": "rect", "fill": "white", "stroke": "#6e6e6e", "strokeWidth": 1},
 "encoding": {"x": {"field": "y", "type": "quantitative"}, "x2": {"field": "y2"}, "y": {"field": "z", "type": "quantitative"}, "y2": {"field": "z2"}}},
{"data": {"values": [{"y":-2875,"y2":2875,"z":0,"z2":1000}]},
 "mark": {"type": "rect", "filled": false, "stroke": "#7a7a7a", "strokeWidth": 1.2},
 "encoding": {"x": {"field": "y", "type": "quantitative"}, "x2": {"field": "y2"}, "y": {"field": "z", "type": "quantitative"}, "y2": {"field": "z2"}}},
{"data": {"values": [{"y":2808,"z":895,"t":"Pitch = 1250 µm"}]},
 "mark": {"type": "text", "align": "right", "baseline": "middle", "font": "Lato", "fontSize": 15, "fontWeight": "bold", "color": "#1a1a1a"},
 "encoding": {"x": {"field": "y", "type": "quantitative"}, "y": {"field": "z", "type": "quantitative"}, "text": {"field": "t"}}},
{"data": {"values": [{"y":1199,"z":1184,"t":"min"},{"y":2886,"z":1184,"t":"max"}]},
 "mark": {"type": "text", "align": "center", "baseline": "middle", "font": "Lato", "fontSize": 17, "fontWeight": "bold", "color": "#1a1a1a"},
 "encoding": {"x": {"field": "y", "type": "quantitative"}, "y": {"field": "z", "type": "quantitative"}, "text": {"field": "t"}}}
]
},
{
"width": 768, "height": 139,
"layer": [
{"data": {"name": "tb"},
 "mark": {"type": "point", "shape": "M-1,-0.8H1V0.8H-1Z", "filled": true, "size": 222, "opacity": 1, "strokeWidth": 0},
 "encoding": {
  "x": {"field": "y", "type": "quantitative", "scale": {"domain": [-3350, 3330], "nice": false, "zero": false},
        "axis": {"values": [-3000,-2000,-1000,0,1000,2000,3000], "tickCount": 7, "format": "d", "labelOverlap": false, "title": "Dimensions (µm)", "titleX": 760, "titleAlign": "right", "titleFontSize": 16, "titleColor": "#1a1a1a", "titlePadding": 5, "tickSize": -5, "labelPadding": 11, "labelFontSize": 16, "labelColor": "#262626", "domainColor": "#8c8c8c", "domainWidth": 1.5, "tickColor": "#8c8c8c", "tickWidth": 1.5}},
  "y": {"field": "z", "type": "quantitative", "scale": {"domain": [-127, 1075], "nice": false, "zero": false},
        "axis": {"values": [0,200,400,600,800,1000], "tickCount": 6, "format": "d", "labelOverlap": false, "title": null, "tickSize": -5, "labelPadding": 9, "labelFontSize": 16, "labelColor": "#262626", "domainColor": "#8c8c8c", "domainWidth": 1.5, "tickColor": "#8c8c8c", "tickWidth": 1.5}},
  "color": {"field": "v", "type": "quantitative",
   "scale": {"domain": [0,0.5,1,1.5,2,2.5,3,3.5,4,4.5,5,5.5,6,7,8,9,10], "range": ["#00007f","#0020ff","#00c0ff","#40ffc0","#a0ff60","#d8ff28","#ffff00","#ffcc00","#ffa000","#ff7800","#ff5000","#ff3000","#ff1000","#e00000","#c00000","#a00000","#800000"], "interpolate": "rgb", "clamp": true},
   "legend": null}
 }},
{"data": {"values": [{"y":-2750,"y2":-1750,"z":0,"z2":85},{"y":-1250,"y2":-250,"z":0,"z2":85},{"y":250,"y2":1250,"z":0,"z2":85},{"y":1750,"y2":2750,"z":0,"z2":85}]},
 "mark": {"type": "rect", "fill": "white", "stroke": "#6e6e6e", "strokeWidth": 1},
 "encoding": {"x": {"field": "y", "type": "quantitative"}, "x2": {"field": "y2"}, "y": {"field": "z", "type": "quantitative"}, "y2": {"field": "z2"}}},
{"data": {"values": [{"y":-3250,"y2":3250,"z":0,"z2":1000}]},
 "mark": {"type": "rect", "filled": false, "stroke": "#7a7a7a", "strokeWidth": 1.2},
 "encoding": {"x": {"field": "y", "type": "quantitative"}, "x2": {"field": "y2"}, "y": {"field": "z", "type": "quantitative"}, "y2": {"field": "z2"}}},
{"data": {"values": [{"y":-3135,"y2":-3135,"z":107,"z2":300},{"y":-3135,"y2":-2950,"z":107,"z2":107}]},
 "mark": {"type": "rule", "color": "#000000", "strokeWidth": 2},
 "encoding": {"x": {"field": "y", "type": "quantitative"}, "x2": {"field": "y2"}, "y": {"field": "z", "type": "quantitative"}, "y2": {"field": "z2"}}},
{"data": {"values": [{"y":-3135,"z":331,"sh":"triangle-up"},{"y":-2924,"z":107,"sh":"triangle-right"}]},
 "mark": {"type": "point", "filled": true, "color": "#000000", "size": 70, "opacity": 1},
 "encoding": {"x": {"field": "y", "type": "quantitative"}, "y": {"field": "z", "type": "quantitative"}, "shape": {"field": "sh", "type": "nominal", "scale": null, "legend": null}}},
{"data": {"values": [{"y":-3046,"z":344,"t":"z"},{"y":-2811,"z":46,"t":"y"}]},
 "mark": {"type": "text", "align": "center", "baseline": "middle", "font": "Lato", "fontSize": 15, "fontWeight": "bold", "color": "#1a1a1a"},
 "encoding": {"x": {"field": "y", "type": "quantitative"}, "y": {"field": "z", "type": "quantitative"}, "text": {"field": "t"}}},
{"data": {"values": [{"y":3182,"z":885,"t":"Pitch = 1500 µm"}]},
 "mark": {"type": "text", "align": "right", "baseline": "middle", "font": "Lato", "fontSize": 15, "fontWeight": "bold", "color": "#1a1a1a"},
 "encoding": {"x": {"field": "y", "type": "quantitative"}, "y": {"field": "z", "type": "quantitative"}, "text": {"field": "t"}}}
]
}
],
"spacing": 30,
"bounds": "flush",
"resolve": {"scale": {"color": "independent", "x": "independent", "y": "independent"}}
},
{
"width": 243, "height": 231,
"layer": [
{"data": {"name": "lines"},
 "mark": {"type": "line", "strokeWidth": 2.5, "interpolate": "monotone"},
 "encoding": {
  "x": {"field": "x", "type": "quantitative", "scale": {"domain": [0, 1000], "nice": false},
        "axis": {"values": [0,500,1000], "tickCount": 3, "format": "d", "title": "Distance along Diameter (µm)", "titleFontSize": 15, "titleColor": "#1a1a1a", "titlePadding": 8, "labelFontSize": 15.5, "labelColor": "#1a1a1a", "labelPadding": 11, "tickSize": 4, "domainColor": "#000000", "domainWidth": 2, "tickColor": "#000000", "tickWidth": 1.5}},
  "y": {"field": "d", "type": "quantitative", "scale": {"domain": [0, 25.9], "nice": false},
        "axis": {"values": [0,5,10,15,20,25], "tickCount": 6, "format": "d", "labelOverlap": false, "title": "PMUT Displacement (nm)", "titleFontSize": 15, "titleColor": "#1a1a1a", "titlePadding": 15, "labelFontSize": 15.5, "labelColor": "#1a1a1a", "labelPadding": 2, "tickSize": 4, "domainColor": "#000000", "domainWidth": 2, "tickColor": "#000000", "tickWidth": 1.5}},
  "color": {"field": "s", "type": "nominal", "scale": {"domain": ["Mechanically Decoupled", "Clamped"], "range": ["#4472c4", "#ff0000"]}, "legend": null},
  "strokeDash": {"field": "s", "type": "nominal", "scale": {"domain": ["Mechanically Decoupled", "Clamped"], "range": [[1,0],[7,4]]}, "legend": null}
 }},
{"data": {"values": [{"x":-144,"x2":-14,"y":-14.88,"s":"Mechanically Decoupled"},{"x":532,"x2":658,"y":-14.8,"s":"Clamped"}]},
 "mark": {"type": "rule", "strokeWidth": 2.5},
 "encoding": {"x": {"field": "x", "type": "quantitative"}, "x2": {"field": "x2"}, "y": {"field": "y", "type": "quantitative"},
  "color": {"field": "s", "type": "nominal", "legend": null}, "strokeDash": {"field": "s", "type": "nominal", "legend": null}}},
{"data": {"values": [{"x":90.5,"x2":354,"y":-10.76,"y2":-12.25},{"x":679,"x2":946.5,"y":-10.76,"y2":-12.25}]},
 "mark": {"type": "rect", "filled": false, "stroke": "#8c8c8c", "strokeWidth": 1.5},
 "encoding": {"x": {"field": "x", "type": "quantitative"}, "x2": {"field": "x2"}, "y": {"field": "y", "type": "quantitative"}, "y2": {"field": "y2"}}},
{"data": {"values": [{"x":90.5,"x2":144,"y":-12.25,"y2":-12.25},{"x":300,"x2":354,"y":-12.25,"y2":-12.25},{"x":679,"x2":679,"y":-10.76,"y2":-12.25},{"x":946.5,"x2":946.5,"y":-10.76,"y2":-12.25}]},
 "mark": {"type": "rule", "color": "#ff0000", "strokeWidth": 2},
 "encoding": {"x": {"field": "x", "type": "quantitative"}, "x2": {"field": "x2"}, "y": {"field": "y", "type": "quantitative"}, "y2": {"field": "y2"}}},
{"data": {"values": [{"x":-185,"y":-9.98,"t":"Anchorage point on membrane:"},{"x":30,"y":-14.88,"t":"Mechanically"},{"x":30,"y":-17.12,"t":"Decoupled"},{"x":686,"y":-14.8,"t":"Clamped"}]},
 "mark": {"type": "text", "align": "left", "baseline": "middle", "font": "Lato", "fontSize": 16, "fontWeight": "bold", "color": "#1a1a1a"},
 "encoding": {"x": {"field": "x", "type": "quantitative"}, "y": {"field": "y", "type": "quantitative"}, "text": {"field": "t"}}},
{"data": {"values": [{"x":-341.6,"y":26.07,"t":"B"}]},
 "mark": {"type": "text", "align": "center", "baseline": "middle", "font": "Lato", "fontSize": 19, "fontWeight": "bold", "color": "#1a1a1a"},
 "encoding": {"x": {"field": "x", "type": "quantitative"}, "y": {"field": "y", "type": "quantitative"}, "text": {"field": "t"}}}
]
}
]
}
